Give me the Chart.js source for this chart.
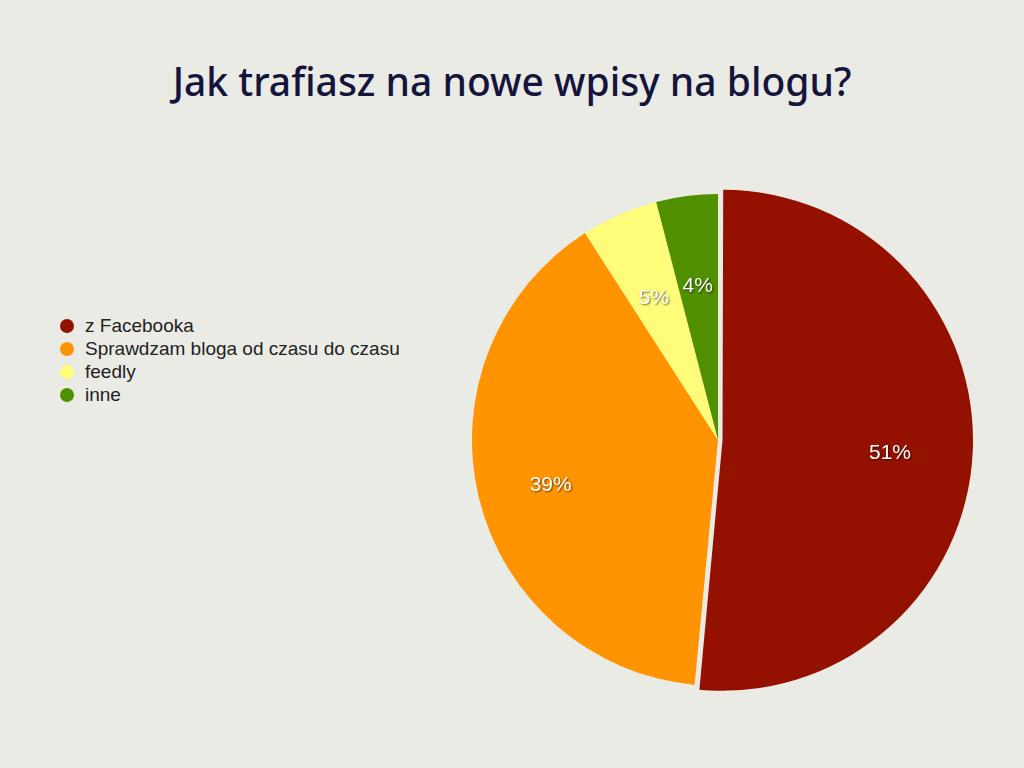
<!DOCTYPE html>
<html>
<head>
<meta charset="utf-8">
<script src="https://cdn.jsdelivr.net/npm/chart.js@4"></script>
<style>
  body { margin: 0; width: 1024px; height: 768px; background: #ebebe6; position: relative; overflow: hidden; font-family: "Open Sans", "Liberation Sans", sans-serif; }
  h1 { position: absolute; top: 54px; left: 0; width: 1024px; margin: 0; text-align: center; font-weight: 500; font-size: 39px; color: #14143c; font-family: "Noto Sans", "DejaVu Sans", sans-serif; }
  .legend { position: absolute; left: 60px; top: 314px; font-size: 19px; color: #222; font-family: "Liberation Sans", Arial, sans-serif; }
  .legend div { height: 23px; line-height: 23px; }
  .legend span { display: inline-block; width: 14px; height: 14px; border-radius: 50%; margin-right: 11px; vertical-align: -1px; }
  .wrap { position: absolute; left: 463px; top: 185px; width: 510px; height: 510px; }
</style>
</head>
<body>
<h1>Jak trafiasz na nowe wpisy na blogu?</h1>
<div class="legend" id="legend"></div>
<div class="wrap"><canvas id="pie"></canvas></div>
<script>
const categories = ["z Facebooka", "Sprawdzam bloga od czasu do czasu", "feedly", "inne"];
const values = [51, 39, 5, 4];
const colors = ["#941100", "#ff9300", "#fffc79", "#4f8f00"];
const offsets = [18, 0, 0, 0];

const legendEl = document.getElementById("legend");
categories.forEach((c, i) => {
  const row = document.createElement("div");
  row.innerHTML = '<span style="background:' + colors[i] + '"></span>' + c;
  legendEl.appendChild(row);
});

// percentage labels inside slices
const pctLabels = {
  id: "pctLabels",
  afterDatasetsDraw(chart) {
    const ctx = chart.ctx;
    const meta = chart.getDatasetMeta(0);
    ctx.save();
    ctx.font = "21px 'Liberation Sans', Arial, sans-serif";
    ctx.textAlign = "center";
    ctx.textBaseline = "middle";
    ctx.fillStyle = "#fff";
    ctx.shadowColor = "rgba(0,0,0,0.6)";
    ctx.shadowBlur = 2;
    ctx.shadowOffsetX = 1;
    ctx.shadowOffsetY = 1;
    meta.data.forEach((arc, i) => {
      const p = arc.getProps(["x", "y", "startAngle", "endAngle", "outerRadius"], true);
      const mid = (p.startAngle + p.endAngle) / 2;
      const r = p.outerRadius * (values[i] < 10 ? 0.65 : 0.7);
      ctx.fillText(values[i] + "%", p.x + Math.cos(mid) * r, p.y + Math.sin(mid) * r + 5);
    });
    ctx.restore();
  }
};

new Chart(document.getElementById("pie"), {
  type: "pie",
  data: {
    labels: categories,
    datasets: [{ data: values, backgroundColor: colors, borderWidth: 0, offset: offsets }]
  },
  options: {
    responsive: true,
    maintainAspectRatio: false,
    animation: false,
    plugins: { legend: { display: false }, tooltip: { enabled: false } }
  },
  plugins: [pctLabels]
});
</script>
</body>
</html>
